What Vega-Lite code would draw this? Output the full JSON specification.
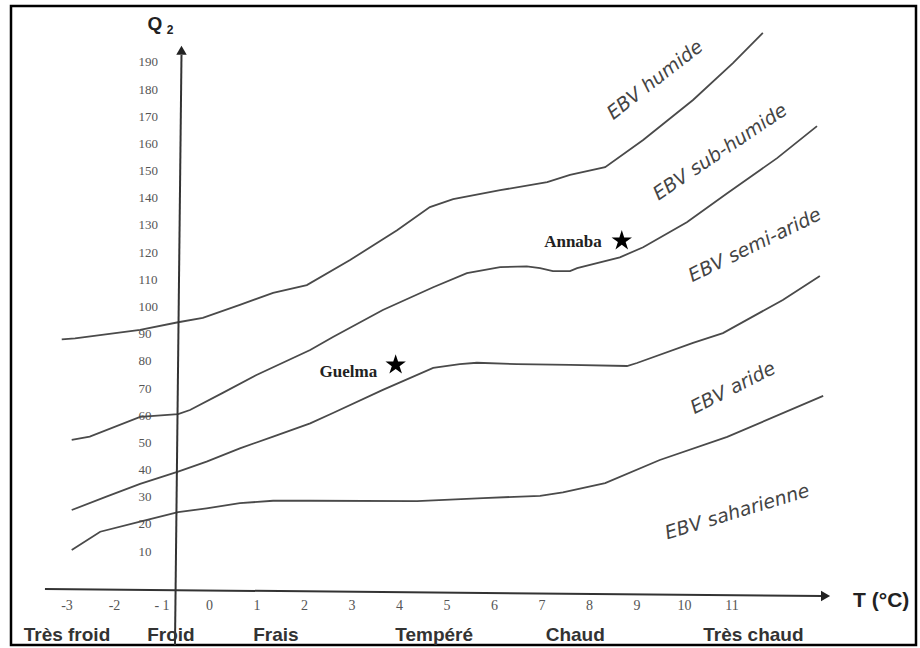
{
  "$schema": "https://vega.github.io/schema/vega-lite/v6.json",
  "width": 905,
  "height": 639,
  "autosize": {"type": "none"},
  "padding": {"left": 11, "top": 6, "right": 4, "bottom": 3},
  "background": "white",
  "config": {"view": {"stroke": "#000", "strokeWidth": 2.5}, "axis": {"labelOverlap": false, "labelBound": false}},
  "datasets": {
    "curves": [
      {"curve": "c1", "T": -3.10, "Q": 87.9}, {"curve": "c1", "T": -2.82, "Q": 88.3}, {"curve": "c1", "T": -1.45, "Q": 91.4}, {"curve": "c1", "T": -0.65, "Q": 94.2}, {"curve": "c1", "T": -0.13, "Q": 95.8}, {"curve": "c1", "T": 0.65, "Q": 100.6}, {"curve": "c1", "T": 1.35, "Q": 105.0}, {"curve": "c1", "T": 2.06, "Q": 107.9}, {"curve": "c1", "T": 2.97, "Q": 117.1}, {"curve": "c1", "T": 3.96, "Q": 128.1}, {"curve": "c1", "T": 4.65, "Q": 136.6}, {"curve": "c1", "T": 5.14, "Q": 139.5}, {"curve": "c1", "T": 6.13, "Q": 142.8}, {"curve": "c1", "T": 7.12, "Q": 145.8}, {"curve": "c1", "T": 7.60, "Q": 148.4}, {"curve": "c1", "T": 8.34, "Q": 151.3}, {"curve": "c1", "T": 9.14, "Q": 161.3}, {"curve": "c1", "T": 10.19, "Q": 176.0}, {"curve": "c1", "T": 11.03, "Q": 189.6}, {"curve": "c1", "T": 11.66, "Q": 200.7},
      {"curve": "c2", "T": -2.89, "Q": 50.9}, {"curve": "c2", "T": -2.51, "Q": 52.1}, {"curve": "c2", "T": -1.45, "Q": 59.4}, {"curve": "c2", "T": -0.65, "Q": 60.4}, {"curve": "c2", "T": -0.40, "Q": 61.9}, {"curve": "c2", "T": 0.29, "Q": 68.2}, {"curve": "c2", "T": 1.00, "Q": 74.8}, {"curve": "c2", "T": 2.13, "Q": 84.0}, {"curve": "c2", "T": 2.61, "Q": 88.8}, {"curve": "c2", "T": 3.66, "Q": 98.7}, {"curve": "c2", "T": 4.72, "Q": 107.1}, {"curve": "c2", "T": 5.43, "Q": 112.3}, {"curve": "c2", "T": 6.13, "Q": 114.5}, {"curve": "c2", "T": 6.69, "Q": 114.8}, {"curve": "c2", "T": 6.97, "Q": 114.1}, {"curve": "c2", "T": 7.24, "Q": 113.0}, {"curve": "c2", "T": 7.60, "Q": 113.0}, {"curve": "c2", "T": 7.75, "Q": 114.1}, {"curve": "c2", "T": 8.65, "Q": 118.1}, {"curve": "c2", "T": 9.14, "Q": 121.8}, {"curve": "c2", "T": 10.06, "Q": 131.0}, {"curve": "c2", "T": 10.91, "Q": 141.7}, {"curve": "c2", "T": 11.96, "Q": 154.6}, {"curve": "c2", "T": 12.80, "Q": 166.4},
      {"curve": "c3", "T": -2.89, "Q": 25.1}, {"curve": "c3", "T": -2.16, "Q": 30.0}, {"curve": "c3", "T": -1.45, "Q": 34.7}, {"curve": "c3", "T": -0.65, "Q": 39.2}, {"curve": "c3", "T": -0.05, "Q": 42.9}, {"curve": "c3", "T": 0.65, "Q": 47.8}, {"curve": "c3", "T": 1.35, "Q": 52.1}, {"curve": "c3", "T": 2.13, "Q": 57.0}, {"curve": "c3", "T": 2.61, "Q": 60.8}, {"curve": "c3", "T": 3.66, "Q": 69.3}, {"curve": "c3", "T": 4.72, "Q": 77.4}, {"curve": "c3", "T": 5.28, "Q": 78.8}, {"curve": "c3", "T": 5.64, "Q": 79.3}, {"curve": "c3", "T": 6.48, "Q": 78.8}, {"curve": "c3", "T": 7.60, "Q": 78.5}, {"curve": "c3", "T": 8.80, "Q": 78.1}, {"curve": "c3", "T": 9.01, "Q": 79.2}, {"curve": "c3", "T": 10.19, "Q": 86.6}, {"curve": "c3", "T": 10.82, "Q": 90.2}, {"curve": "c3", "T": 12.08, "Q": 102.4}, {"curve": "c3", "T": 12.86, "Q": 111.2},
      {"curve": "c4", "T": -2.89, "Q": 10.4}, {"curve": "c4", "T": -2.29, "Q": 17.1}, {"curve": "c4", "T": -1.45, "Q": 20.8}, {"curve": "c4", "T": -0.65, "Q": 24.3}, {"curve": "c4", "T": -0.05, "Q": 25.7}, {"curve": "c4", "T": 0.65, "Q": 27.6}, {"curve": "c4", "T": 1.35, "Q": 28.5}, {"curve": "c4", "T": 2.13, "Q": 28.5}, {"curve": "c4", "T": 4.38, "Q": 28.4}, {"curve": "c4", "T": 5.77, "Q": 29.5}, {"curve": "c4", "T": 6.97, "Q": 30.3}, {"curve": "c4", "T": 7.45, "Q": 31.6}, {"curve": "c4", "T": 8.34, "Q": 35.0}, {"curve": "c4", "T": 9.49, "Q": 43.5}, {"curve": "c4", "T": 10.91, "Q": 52.0}, {"curve": "c4", "T": 12.93, "Q": 67.1}
    ],
    "zones": [
      {"name": "EBV humide", "T": 9.39, "Q": 183.4},
      {"name": "EBV sub-humide", "T": 10.76, "Q": 156.9},
      {"name": "EBV semi-aride", "T": 11.49, "Q": 122.6},
      {"name": "EBV aride", "T": 11.03, "Q": 70.0},
      {"name": "EBV saharienne", "T": 11.12, "Q": 24.4}
    ],
    "stations": [
      {"name": "Annaba", "T": 8.69, "Q": 124.2},
      {"name": "Guelma", "T": 3.93, "Q": 78.5}
    ],
    "stationLabels": [
      {"name": "Annaba", "T": 8.27, "Q": 123.7},
      {"name": "Guelma", "T": 3.54, "Q": 75.9}
    ],
    "categories": [
      {"label": "Très froid", "T": -2.99, "Q": -20.9},
      {"label": "Froid", "T": -0.80, "Q": -20.9},
      {"label": "Frais", "T": 1.41, "Q": -20.9},
      {"label": "Tempéré", "T": 4.74, "Q": -20.9},
      {"label": "Chaud", "T": 7.71, "Q": -20.9},
      {"label": "Très chaud", "T": 11.46, "Q": -20.9}
    ],
    "axisLines": [
      {"axis": "y", "T": -0.579, "Q": 192.6, "T2": -0.716, "Q2": -24.6},
      {"axis": "x", "T": -3.453, "Q": -3.97, "T2": 12.905, "Q2": -6.55}
    ],
    "arrowUp": [{"T": -0.579, "Q": 194.3}],
    "arrowRight": [{"T": 12.98, "Q": -6.55}],
    "titleQ": [{"text": "Q", "T": -1.137, "Q": 204.0}],
    "titleQsub": [{"text": "2", "T": -0.82, "Q": 201.6}],
    "titleT": [{"text": "T (°C)", "T": 13.56, "Q": -8.5}]
  },
  "encoding": {
    "x": {"field": "T", "type": "quantitative",
          "scale": {"domain": [-4.168, 14.884], "nice": false, "zero": false},
          "axis": {"values": [-3, -2, -1, 0, 1, 2, 3, 4, 5, 6, 7, 8, 9, 10, 11],
                   "labelExpr": "datum.value == -1 ? '- 1' : '' + datum.value",
                   "domain": false, "ticks": false, "tickSize": 0, "grid": false, "offset": -55,
                   "labelPadding": 8, "labelFont": "Liberation Serif", "labelFontSize": 14,
                   "labelColor": "#555", "title": null, "labelFlush": false, "labelOverlap": false}},
    "y": {"field": "Q", "type": "quantitative",
          "scale": {"domain": [-24.59, 210.6], "nice": false, "zero": false},
          "axis": {"values": [10, 20, 30, 40, 50, 60, 70, 80, 90, 100, 110, 120, 130, 140, 150, 160, 170, 180, 190],
                   "domain": false, "ticks": false, "tickSize": 0, "grid": false, "offset": -167,
                   "labelAlign": "left", "labelPadding": 40, "labelFont": "Liberation Serif",
                   "labelFontSize": 13, "labelColor": "#555", "title": null, "labelOverlap": false,
                   "labelBound": false}}
  },
  "layer": [
    {
      "data": {"name": "curves"},
      "mark": {"type": "line", "color": "#4a4a4a", "strokeWidth": 1.8, "interpolate": "linear"},
      "encoding": {"detail": {"field": "curve", "type": "nominal"}}
    },
    {
      "data": {"name": "categories"},
      "mark": {"type": "text", "font": "Liberation Sans", "fontWeight": "bold", "fontSize": 19, "color": "#333", "align": "center", "baseline": "middle"},
      "encoding": {"text": {"field": "label"}}
    },
    {
      "data": {"name": "axisLines"},
      "mark": {"type": "rule", "color": "#333", "strokeWidth": 2},
      "encoding": {"x2": {"field": "T2"}, "y2": {"field": "Q2"}}
    },
    {
      "data": {"name": "arrowUp"},
      "mark": {"type": "point", "shape": "triangle-up", "filled": true, "color": "#222", "opacity": 1, "size": 110},
      "encoding": {}
    },
    {
      "data": {"name": "arrowRight"},
      "mark": {"type": "point", "shape": "triangle-right", "filled": true, "color": "#222", "opacity": 1, "size": 110},
      "encoding": {}
    },
    {
      "data": {"name": "stations"},
      "mark": {"type": "point", "shape": "M0,-1L0.225,-0.309L0.951,-0.309L0.363,0.118L0.588,0.809L0,0.382L-0.588,0.809L-0.363,0.118L-0.951,-0.309L-0.225,-0.309Z", "filled": true, "color": "#000", "opacity": 1, "size": 460},
      "encoding": {}
    },
    {
      "data": {"name": "stationLabels"},
      "mark": {"type": "text", "font": "Liberation Serif", "fontWeight": "bold", "fontSize": 17, "color": "#222", "align": "right", "baseline": "middle"},
      "encoding": {"text": {"field": "name"}}
    },
    {
      "data": {"name": "zones"},
      "transform": [{"filter": "datum.name == 'EBV humide'"}],
      "mark": {"type": "text", "font": "DejaVu Sans", "fontStyle": "italic", "fontSize": 19, "color": "#444", "align": "center", "baseline": "middle", "angle": -38},
      "encoding": {"text": {"field": "name"}}
    },
    {
      "data": {"name": "zones"},
      "transform": [{"filter": "datum.name == 'EBV sub-humide'"}],
      "mark": {"type": "text", "font": "DejaVu Sans", "fontStyle": "italic", "fontSize": 19, "color": "#444", "align": "center", "baseline": "middle", "angle": -34},
      "encoding": {"text": {"field": "name"}}
    },
    {
      "data": {"name": "zones"},
      "transform": [{"filter": "datum.name == 'EBV semi-aride'"}],
      "mark": {"type": "text", "font": "DejaVu Sans", "fontStyle": "italic", "fontSize": 19, "color": "#444", "align": "center", "baseline": "middle", "angle": -26},
      "encoding": {"text": {"field": "name"}}
    },
    {
      "data": {"name": "zones"},
      "transform": [{"filter": "datum.name == 'EBV aride'"}],
      "mark": {"type": "text", "font": "DejaVu Sans", "fontStyle": "italic", "fontSize": 19, "color": "#444", "align": "center", "baseline": "middle", "angle": -27},
      "encoding": {"text": {"field": "name"}}
    },
    {
      "data": {"name": "zones"},
      "transform": [{"filter": "datum.name == 'EBV saharienne'"}],
      "mark": {"type": "text", "font": "DejaVu Sans", "fontStyle": "italic", "fontSize": 19, "color": "#444", "align": "center", "baseline": "middle", "angle": -17},
      "encoding": {"text": {"field": "name"}}
    },
    {
      "data": {"name": "titleQ"},
      "mark": {"type": "text", "font": "Liberation Sans", "fontWeight": "bold", "fontSize": 19, "color": "#222", "align": "center", "baseline": "middle"},
      "encoding": {"text": {"field": "text"}}
    },
    {
      "data": {"name": "titleQsub"},
      "mark": {"type": "text", "font": "Liberation Sans", "fontWeight": "bold", "fontSize": 12, "color": "#222", "align": "center", "baseline": "middle"},
      "encoding": {"text": {"field": "text"}}
    },
    {
      "data": {"name": "titleT"},
      "mark": {"type": "text", "font": "Liberation Sans", "fontWeight": "bold", "fontSize": 21, "color": "#222", "align": "left", "baseline": "middle"},
      "encoding": {"text": {"field": "text"}}
    }
  ]
}
